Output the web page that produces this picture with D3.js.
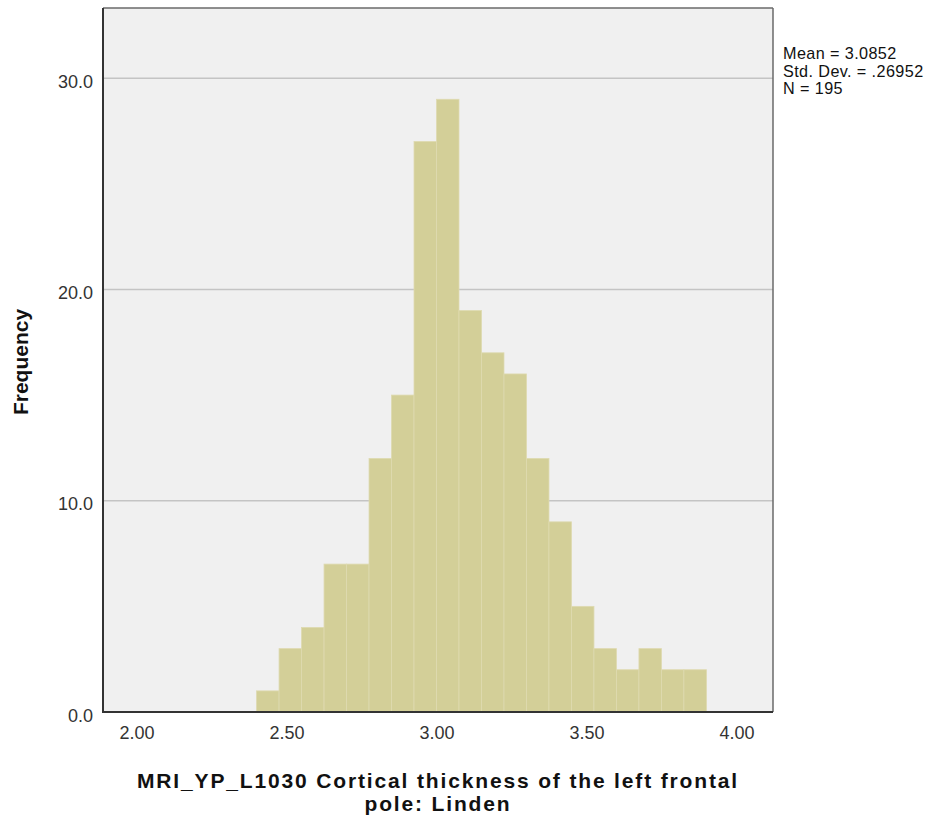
<!DOCTYPE html>
<html><head><meta charset="utf-8">
<script src="https://cdn.jsdelivr.net/npm/d3@7"></script>
<style>body{margin:0;background:#fff}svg{display:block}text{font-family:"Liberation Sans",Arial,sans-serif}</style>
</head><body>
<svg id="c" width="938" height="823"></svg>
<script>
const binStart = 2.40;
const binWidth = 0.075;
const counts = [1,3,4,7,7,12,15,27,29,19,17,16,12,9,5,3,2,3,2,2];
const xTicks = [2.0,2.5,3.0,3.5,4.0];
const yTicks = [0,10,20,30];
const stats = ["Mean = 3.0852","Std. Dev. = .26952","N = 195"];
const xTitle = ["MRI_YP_L1030 Cortical thickness of the left frontal","pole: Linden"];
const yTitle = "Frequency";

const bins = counts.map((c,i)=>({x0: binStart+i*binWidth, x1: binStart+(i+1)*binWidth, n:c}));
const svg = d3.select("#c");
const L=103, R=773, T=8, B=712;
const x = d3.scaleLinear().domain([1.888,4.122]).range([L,R]);
const y = d3.scaleLinear().domain([0,33.32]).range([B,T]);

svg.append("rect").attr("x",L).attr("y",T).attr("width",R-L).attr("height",B-T).attr("fill","#f0f0f0");
svg.append("g").selectAll("line").data(yTicks.filter(d=>d>0)).join("line")
  .attr("x1",L).attr("x2",R).attr("y1",d=>y(d)).attr("y2",d=>y(d))
  .attr("stroke","#c4c4c4").attr("stroke-width",1.5);
svg.append("g").selectAll("rect").data(bins).join("rect")
  .attr("x",d=>x(d.x0)).attr("width",d=>x(d.x1)-x(d.x0))
  .attr("y",d=>y(d.n)).attr("height",d=>y(0)-y(d.n))
  .attr("fill","#d3cf98").attr("stroke","#dedab0").attr("stroke-width",0.8);
// frame
svg.append("line").attr("x1",L).attr("x2",R).attr("y1",T).attr("y2",T).attr("stroke","#6a6a6a").attr("stroke-width",1.5);
svg.append("line").attr("x1",R).attr("x2",R).attr("y1",T).attr("y2",B).attr("stroke","#6a6a6a").attr("stroke-width",1.5);
svg.append("line").attr("x1",L).attr("x2",L).attr("y1",T).attr("y2",B+1).attr("stroke","#333").attr("stroke-width",2);
svg.append("line").attr("x1",L-1).attr("x2",R).attr("y1",B).attr("y2",B).attr("stroke","#333").attr("stroke-width",2);

const yAxis = d3.axisLeft(y).tickValues(yTicks).tickFormat(d3.format(".1f")).tickSize(0).tickPadding(10);
const gy = svg.append("g").attr("transform",`translate(${L},0)`).call(yAxis);
gy.select(".domain").remove();
gy.selectAll("text").attr("font-size",18).attr("dy","0.5em").attr("fill","#333").style("font-family","Liberation Sans, Arial, sans-serif");

const xAxis = d3.axisBottom(x).tickValues(xTicks).tickFormat(d3.format(".2f")).tickSize(0).tickPadding(14);
const gx = svg.append("g").attr("transform",`translate(0,${B})`).call(xAxis);
gx.select(".domain").remove();
gx.selectAll("text").attr("font-size",18).attr("dy",null).attr("y",27).attr("fill","#333").style("font-family","Liberation Sans, Arial, sans-serif");

svg.append("g").selectAll("text").data(stats).join("text")
  .attr("x",783).attr("y",(d,i)=>59+i*17.6).attr("font-size",16.2).attr("letter-spacing",0.4).attr("fill","#111").text(d=>d);

svg.append("g").selectAll("text").data(xTitle).join("text")
  .attr("x",438).attr("y",(d,i)=>788+i*23).attr("text-anchor","middle")
  .attr("font-size",21).attr("letter-spacing",1.85).attr("font-weight","bold").attr("fill","#111").text(d=>d);

svg.append("text").attr("transform","translate(28,362) rotate(-90)").attr("text-anchor","middle")
  .attr("font-size",21).attr("font-weight","bold").attr("fill","#111").text(yTitle);
</script>
</body></html>
